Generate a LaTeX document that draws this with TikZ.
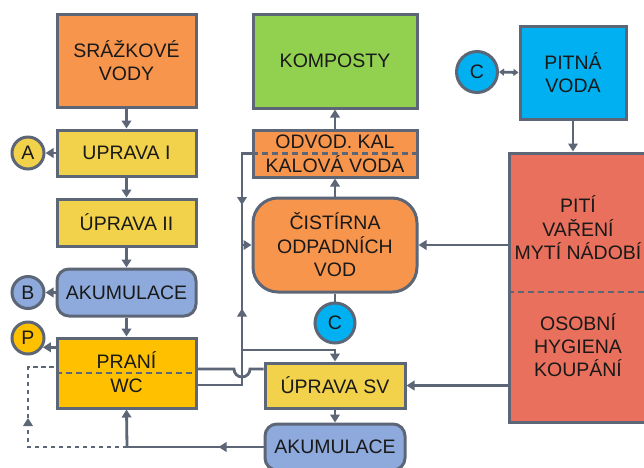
\documentclass[tikz,border=0pt]{standalone}
\usepackage{fontspec}
\setmainfont{Liberation Sans}
\usetikzlibrary{arrows.meta,decorations.markings}
\definecolor{lc}{HTML}{5C6676}
\definecolor{cor}{HTML}{F8954D}
\definecolor{cye}{HTML}{F2D14B}
\definecolor{cgo}{HTML}{FFC000}
\definecolor{cbl}{HTML}{8EAADC}
\definecolor{cgr}{HTML}{92D050}
\definecolor{ccy}{HTML}{00B0F0}
\definecolor{crd}{HTML}{E9705C}
\tikzset{
  box/.style={draw=lc, line width=3pt, align=center, inner sep=0pt,
    font=\fontsize{19.5pt}{23.5pt}\selectfont, text=black!90},
  circ/.style={circle, draw=lc, line width=3pt, inner sep=0pt,
    font=\fontsize{19.5pt}{23.5pt}\selectfont, text=black!90},
  lbl/.style={font=\fontsize{19.5pt}{23.5pt}\selectfont, text=black!90, align=center},
  conn/.style={draw=lc, line width=2.8pt},
  arr/.style={conn, -{Triangle[length=8pt,width=9.5pt]}},
  darr/.style={conn, {Triangle[length=5pt,width=7pt]}-{Triangle[length=5pt,width=7pt]}},
  sep/.style={draw=lc, line width=2.4pt, dash pattern=on 6pt off 4pt},
  midarr/.style={postaction={decorate}, decoration={markings,
    mark=at position #1 with {\arrow{Triangle[length=8pt,width=9.5pt]}}}},
}
\begin{document}
\begin{tikzpicture}[x=1pt,y=-1pt]
\useasboundingbox (0,0) rectangle (644,467);
\clip (0,0) rectangle (644,467);
% left column
\node[box, fill=cor, minimum width=139, minimum height=93] (srv) at (126.5,60.5) {SRÁŽKOVÉ\\VODY};
\node[box, fill=cye, minimum width=139, minimum height=46] (up1) at (126.5,153) {UPRAVA I};
\node[box, fill=cye, minimum width=139, minimum height=47] (up2) at (126.5,222.5) {ÚPRAVA II};
\node[box, fill=cbl, rounded corners=12pt, minimum width=139, minimum height=47] (ak1) at (126.5,292.5) {AKUMULACE};
\node[box, fill=cgo, minimum width=139, minimum height=70] (pw) at (126.5,373) {};
\node[lbl] (prani) at (126.5,360) {PRANÍ};
\node[lbl] (wc) at (126.5,386) {WC};
\draw[sep] (pw.west) -- (pw.east);
\node[circ, fill=cye, minimum size=32] (ca) at (28,153) {A};
\node[circ, fill=cbl, minimum size=32] (cb) at (28,292.5) {B};
\node[circ, fill=cgo, minimum size=32] (cp) at (28,338) {P};
% middle column
\node[box, fill=cgr, minimum width=164, minimum height=94] (komp) at (335,61) {KOMPOSTY};
\node[box, fill=cor, minimum width=164, minimum height=47] (odv) at (335,153.5) {};
\node[lbl] (odvt) at (335,141.5) {ODVOD. KAL};
\node[lbl] (kalt) at (335,164.5) {KALOVÁ VODA};
\draw[sep] (odv.west) -- (odv.east);
\node[box, fill=cor, rounded corners=25pt, minimum width=164, minimum height=94] (cis) at (335,245) {ČISTÍRNA\\ODPADNÍCH\\VOD};
\node[circ, fill=ccy, minimum size=40] (cm) at (335,323) {C};
\node[box, fill=cye, minimum width=140, minimum height=45] (usv) at (335,385.5) {ÚPRAVA SV};
\node[box, fill=cbl, rounded corners=12pt, minimum width=140, minimum height=46] (ak2) at (335,447) {AKUMULACE};
% right column
\node[box, fill=ccy, minimum width=106, minimum height=93] (pit) at (573,72.5) {PITNÁ\\VODA};
\node[circ, fill=ccy, minimum size=41] (cr) at (477,72) {C};
\node[box, fill=crd, minimum width=138, minimum height=269] (red) at (578,287.5) {};
\node[lbl] (t1) at (578,228) {PITÍ\\VAŘENÍ\\MYTÍ NÁDOBÍ};
\node[lbl, font=\fontsize{19.5pt}{23pt}\selectfont] (t2) at (578,345) {OSOBNÍ\\HYGIENA\\KOUPÁNÍ};
\draw[sep] (red.west |- 0,292) -- (red.east |- 0,292);
% coordinates
\coordinate (va) at (242,153.5);
\coordinate (vb) at (242,350);
\coordinate (vc) at (335,350);
\coordinate (wd) at (242,385);
\coordinate (wu) at (242,245);
\coordinate (j) at (127,447);
\coordinate (dl) at (28,447);
\coordinate (du) at (28,367);
% connectors left column
\draw[arr] (srv) -- (up1);
\draw[arr] (up1) -- (up2);
\draw[arr] (up2) -- (ak1);
\draw[arr] (ak1) -- (pw);
\draw[arr] (up1) -- (ca);
\draw[arr] (ak1) -- (cb);
\draw[arr] (pw.west |- cp.-32) -- (cp.-32);
% middle
\draw[arr] (odv) -- (komp);
\draw[arr] (cis) -- (odv);
\draw[conn] (cis) -- (cm);
\draw[arr] (usv) -- (ak2);
\draw[conn, midarr=61pt, -{Triangle[length=8pt,width=9.5pt]}] (odv.west) -- (va) -- (vb) -- (vc) -- (usv.north);
\draw[conn, midarr=121pt, -{Triangle[length=8pt,width=9.5pt]}] (pw.east |- wd) -- (wd) -- (wu) -- (cis.west);
\draw[conn] (pw.east |- 0,369) -- (234,369) arc[start angle=180, end angle=360, radius=8pt] -- (usv.west |- 0,369);
\draw[conn, midarr=45pt] (ak2.west |- j) -- (j);
\draw[arr] (j) -- (pw.south);
\draw[conn, dash pattern=on 4.5pt off 3.5pt, line width=2.4pt, midarr=128pt] (j) -- (dl) -- (du) -- (pw.west |- du);
% right
\draw[arr] (pit.south) -- (pit.south |- red.north);
\draw[darr] (cr.east) -- (pit.west);
\draw[arr] (red.west |- cis.east) -- (cis.east);
\draw[arr] (red.west |- usv.east) -- (usv.east);
\end{tikzpicture}
\end{document}
